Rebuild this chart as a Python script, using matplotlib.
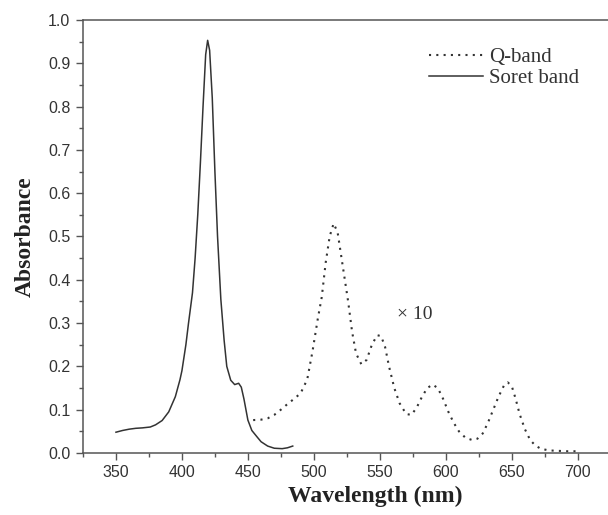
import matplotlib
matplotlib.use('Agg')
import matplotlib.pyplot as plt
from matplotlib.ticker import MultipleLocator

# Soret band (solid line)
soret_nm = [350, 355, 360, 365, 370, 376, 380, 385, 390, 395, 398.5, 400, 403, 405,
            408, 410, 412, 414, 416, 418, 419.5, 421, 423, 425, 427, 429.5, 432, 434,
            437, 440, 443, 445, 447, 450, 453, 457, 460, 465, 470, 476, 480, 484]
soret_abs = [0.048, 0.052, 0.055, 0.057, 0.058, 0.060, 0.065, 0.075, 0.095, 0.13, 0.169, 0.19,
             0.25, 0.30, 0.37, 0.45, 0.55, 0.67, 0.80, 0.92, 0.953, 0.93, 0.82, 0.65, 0.50,
             0.355, 0.26, 0.20, 0.168, 0.158, 0.161, 0.152, 0.125, 0.076, 0.052, 0.037,
             0.026, 0.016, 0.011, 0.010, 0.012, 0.016]

# Q-band (dotted line, x10)
q_nm = [454, 460, 465, 470, 475, 480, 485, 490, 495, 499, 503, 506, 509, 512, 515, 518,
        522, 526, 529, 532, 536, 540, 544, 548, 551, 554, 557, 561, 565, 570, 574, 578,
        582, 586, 590, 594, 598, 602, 606, 610, 615, 620, 624, 628, 632, 636, 640, 644,
        647, 650, 653, 656, 660, 664, 668, 672, 678, 685, 692, 700]
q_abs = [0.076, 0.077, 0.080, 0.088, 0.100, 0.113, 0.125, 0.138, 0.170, 0.235, 0.31, 0.36,
         0.44, 0.50, 0.53, 0.51, 0.43, 0.35, 0.28, 0.23, 0.205, 0.215, 0.25, 0.272, 0.27,
         0.245, 0.20, 0.15, 0.115, 0.090, 0.088, 0.105, 0.13, 0.15, 0.158, 0.15, 0.125,
         0.095, 0.07, 0.05, 0.035, 0.030, 0.033, 0.045, 0.07, 0.10, 0.13, 0.155, 0.163,
         0.155, 0.125, 0.09, 0.055, 0.03, 0.017, 0.010, 0.006, 0.005, 0.004, 0.004]

serif = ['Liberation Serif', 'DejaVu Serif']
sans = ['Liberation Sans', 'DejaVu Sans']

fig = plt.figure(figsize=(6.08, 5.15), dpi=100)
ax = fig.add_axes([0.1365, 0.1204, 0.8635, 0.8408])

lc = '#333333'
ax.plot(q_nm, q_abs, color=lc, lw=1.5, linestyle=(0, (1, 2.5)), label='Q-band')
ax.plot(soret_nm, soret_abs, color=lc, lw=1.1, label='Soret band')

# the original picture is cropped on the right, so the axes stops at the edge
ax.set_xlim(325, 723)
ax.set_ylim(0, 1.0)
ax.xaxis.set_major_locator(MultipleLocator(50))
ax.xaxis.set_minor_locator(MultipleLocator(25))
ax.yaxis.set_major_locator(MultipleLocator(0.1))
ax.yaxis.set_minor_locator(MultipleLocator(0.05))
ax.yaxis.set_major_formatter(plt.FuncFormatter(lambda v, p: '%.1f' % v))

for s in ax.spines.values():
    s.set_color('#555555')
    s.set_linewidth(1.1)
ax.spines['right'].set_visible(False)

ax.tick_params(which='both', direction='out', colors='#555555', labelcolor='#333333',
               top=False, right=False)
ax.tick_params(which='major', length=5, width=1.0, labelsize=11.5, pad=4)
ax.tick_params(which='minor', length=3, width=1.0)
for lab in ax.get_xticklabels() + ax.get_yticklabels():
    lab.set_family(sans)

ax.set_xlabel('Wavelength (nm)', family=serif, fontweight='bold', fontsize=17,
              color='#222222')
ax.xaxis.set_label_coords(0.556, -0.075)
ax.set_ylabel('Absorbance', family=serif, fontweight='bold', fontsize=17,
              color='#222222', labelpad=9)

ax.text(563, 0.32, '× 10', family=serif, fontsize=14, color='#333333', va='center')

leg = ax.legend(loc='upper left', bbox_to_anchor=(0.643, 0.955), frameon=False,
                prop={'family': serif, 'size': 15}, handlelength=2.6,
                handletextpad=0.3, labelspacing=0.05, borderaxespad=0)
for t in leg.get_texts():
    t.set_color('#333333')

fig.savefig('out.png', dpi=100)
